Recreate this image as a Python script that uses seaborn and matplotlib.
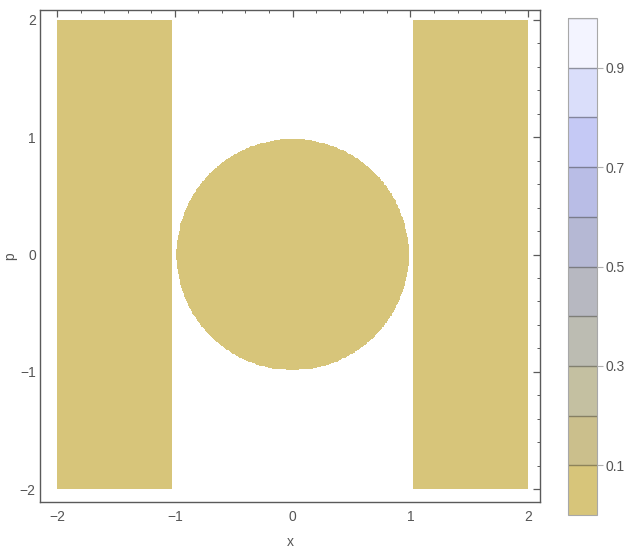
import numpy as np
import matplotlib
matplotlib.use("Agg")
import matplotlib.pyplot as plt
from matplotlib.colors import ListedColormap
from matplotlib.ticker import FixedLocator
import seaborn as sns

# contour levels of the colour bar and the colour of each band
levels = [0.0, 0.1, 0.2, 0.3, 0.4, 0.5, 0.6, 0.7, 0.8, 0.9, 1.0]
band_colors = ["#d7c57a", "#cbbf8c", "#c4c0a1", "#bcbcb2", "#b7b8c1",
               "#b5b8d4", "#b9bde6", "#c5c9f5", "#dadefa", "#f3f4ff"]
cbar_ticks = [0.1, 0.3, 0.5, 0.7, 0.9]

# plot ranges and the shaded region (circle plus two outer bars)
x_range = (-2.144, 2.10)
p_range = (-2.11, 2.085)
box_half = 2.0
bar_edge = 1.02
circle_radius = 0.985
region_value = 0.0

major_ticks = [-2, -1, 0, 1, 2]
minor_ticks = [-1.8, -1.6, -1.4, -1.2, -0.8, -0.6, -0.4, -0.2,
               0.2, 0.4, 0.6, 0.8, 1.2, 1.4, 1.6, 1.8]

sns.set_style("white")
plt.rcParams["font.family"] = ["Liberation Sans", "DejaVu Sans"]

frame_col = "#5a5a5a"
text_col = "#555555"

# sample the region on a fine grid
nx, ny = 620, 620
dx = (x_range[1] - x_range[0]) / nx
dp = (p_range[1] - p_range[0]) / ny
xs = x_range[0] + (np.arange(nx) + 0.5) * dx
ps = p_range[1] - (np.arange(ny) + 0.5) * dp
X, P = np.meshgrid(xs, ps)
inside = (np.abs(X) <= box_half) & (np.abs(P) <= box_half)
region = inside & ((X**2 + P**2 <= circle_radius**2) | (np.abs(X) >= bar_edge))
Z = np.where(region, region_value, np.nan)


def to_col(v):
    return (v - x_range[0]) / dx


def to_row(v):
    return (p_range[1] - v) / dp


fig = plt.figure(figsize=(6.29, 5.59), dpi=100)
ax = fig.add_axes([40 / 629, 57 / 559, 500 / 629, 492 / 559])
cax = fig.add_axes([568 / 629, 44 / 559, 29 / 629, 497 / 559])

cmap = ListedColormap(band_colors)
sns.heatmap(Z, mask=~region, cmap=cmap, vmin=levels[0], vmax=levels[-1],
            ax=ax, cbar_ax=cax, cbar_kws={"ticks": cbar_ticks},
            xticklabels=False, yticklabels=False, rasterized=True)

# frame and ticks of the main axes
for s in ax.spines.values():
    s.set_visible(True)
    s.set_color(frame_col)
    s.set_linewidth(1.0)

ax.xaxis.set_major_locator(FixedLocator([to_col(v) for v in major_ticks]))
ax.xaxis.set_minor_locator(FixedLocator([to_col(v) for v in minor_ticks]))
ax.yaxis.set_major_locator(FixedLocator([to_row(v) for v in major_ticks]))
ax.yaxis.set_minor_locator(FixedLocator([to_row(v) for v in minor_ticks]))
ax.set_xticklabels([f"{v}".replace("-", "\u2212") for v in major_ticks])
ax.set_yticklabels([f"{v}".replace("-", "\u2212") for v in major_ticks], rotation=0)
ax.tick_params(which="both", direction="in", top=True, right=True,
               color=frame_col, labelcolor=text_col, labelsize=10)
ax.tick_params(which="major", length=5, width=0.9)
ax.tick_params(which="minor", length=2.5, width=0.7)
ax.tick_params(axis="x", which="major", pad=6)
ax.tick_params(axis="y", which="major", pad=3)
ax.set_xlabel("x", color=text_col, fontsize=10, labelpad=8)
ax.set_ylabel("p", color=text_col, fontsize=10, labelpad=2)

# colour bar styling
cbar = ax.collections[0].colorbar
cbar.outline.set_linewidth(0.8)
cbar.outline.set_edgecolor("#a8a8a8")
for lv in levels[1:]:
    cax.axhline(lv, color=(0.2, 0.2, 0.2, 0.45), lw=1.0)
cax.tick_params(direction="out", length=4, width=0.8, color="#b0b0b0",
                labelcolor=text_col, labelsize=10, pad=2)
cax.set_yticklabels([f"{v}" for v in cbar_ticks])

fig.savefig("out.png", dpi=100)
